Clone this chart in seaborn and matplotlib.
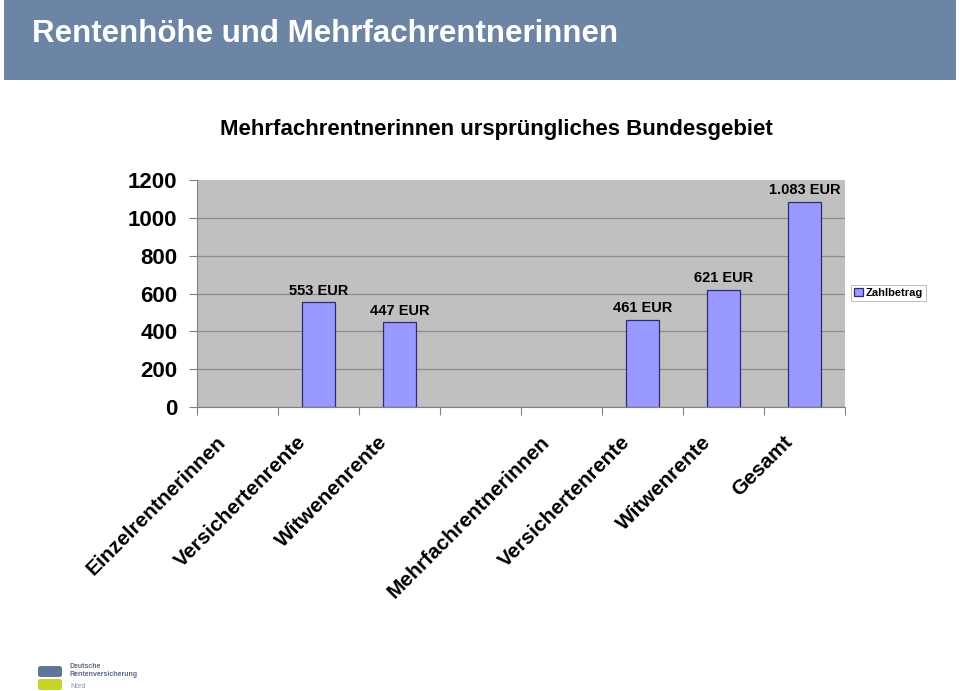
import matplotlib
matplotlib.use("Agg")
import matplotlib.pyplot as plt
from matplotlib.patches import FancyBboxPatch, Rectangle
import matplotlib.transforms as mtransforms
import seaborn as sns
import pandas as pd
import numpy as np

# ---- data ----
slot_keys = ["s0", "s1", "s2", "s3", "s4", "s5", "s6", "s7"]
tick_labels = ["Einzelrentnerinnen", "Versichertenrente", "Witwenenrente", "",
               "Mehrfachrentnerinnen", "Versichertenrente", "Witwenrente", "Gesamt"]
values = [np.nan, 553, 447, np.nan, np.nan, 461, 621, 1083]
value_labels = ["", "553 EUR", "447 EUR", "", "", "461 EUR", "621 EUR", "1.083 EUR"]
series_name = "Zahlbetrag"
y_ticks = [0, 200, 400, 600, 800, 1000, 1200]

df = pd.DataFrame({"slot": slot_keys, "value": values, "series": series_name})

sns.set_theme(style="white")
plt.rcParams["font.family"] = ["Liberation Sans", "DejaVu Sans"]
plt.rcParams["text.color"] = "black"
plt.rcParams["xtick.color"] = "black"
plt.rcParams["ytick.color"] = "black"
plt.rcParams["xtick.labelcolor"] = "black"
plt.rcParams["ytick.labelcolor"] = "black"

fig = plt.figure(figsize=(9.6, 6.91), dpi=100)
fig.patch.set_facecolor("white")

# header band
fig.patches.append(Rectangle((4 / 960, 1 - 80 / 691), 952 / 960, 80 / 691,
                             transform=fig.transFigure, facecolor="#6C85A4",
                             edgecolor="none", zorder=0))
fig.text(32 / 960, 1 - 34 / 691, "Rentenhöhe und Mehrfachrentnerinnen",
         color="white", fontsize=22.5, fontweight="bold", va="center", ha="left")
fig.text(496 / 960, 1 - 129 / 691, "Mehrfachrentnerinnen ursprüngliches Bundesgebiet",
         color="black", fontsize=16, fontweight="bold", va="center", ha="center")

ax = fig.add_axes([197 / 960, 1 - 407 / 691, 648 / 960, 227 / 691])
ax.set_facecolor("#C0C0C0")

sns.barplot(data=df, x="slot", y="value", hue="series", order=slot_keys,
            palette=["#9999FF"], saturation=1, width=0.41, edgecolor="#2B2B7A",
            linewidth=0.9, ax=ax, legend=True)

ax.set_xlim(-0.5, len(slot_keys) - 0.5)
ax.set_ylim(0, 1200)
ax.set_yticks(y_ticks)
ax.set_yticklabels([str(t) for t in y_ticks], fontsize=16, fontweight="bold")
ax.yaxis.grid(True, color="#8C8C8C", linewidth=0.9)
ax.get_ygridlines()[-1].set_visible(False)
ax.set_axisbelow(True)
ax.tick_params(axis="y", length=6, width=0.8, color="#808080", pad=8, left=True)

ax.set_xticks(range(len(slot_keys)))
ax.set_xticklabels(tick_labels, rotation=45, ha="right", va="center",
                   rotation_mode="anchor", fontsize=15, fontweight="bold")
ax.tick_params(axis="x", which="major", length=0, pad=23)
shift = mtransforms.ScaledTranslation(-15 / 100, 0, fig.dpi_scale_trans)
for lab in ax.get_xticklabels():
    lab.set_transform(lab.get_transform() + shift)
ax.set_xticks(np.arange(-0.5, len(slot_keys), 1.0), minor=True)
ax.tick_params(axis="x", which="minor", length=6, width=0.8, color="#808080", bottom=True)
ax.set_xlabel("")
ax.set_ylabel("")

for s in ["top", "right"]:
    ax.spines[s].set_visible(False)
for s in ["left", "bottom"]:
    ax.spines[s].set_color("#808080")
    ax.spines[s].set_linewidth(0.8)

# value labels
for i, (v, lab) in enumerate(zip(values, value_labels)):
    if lab:
        ax.annotate(lab, (i, v), xytext=(0, 3.5), textcoords="offset points",
                    ha="center", va="bottom", fontsize=10.5, fontweight="bold",
                    color="black")

# legend
leg = ax.legend(loc="center left", bbox_to_anchor=(654 / 648, (407 - 293) / 227),
                frameon=True, fancybox=False,
                prop={"weight": "bold", "size": 8},
                handlelength=0.8, handleheight=0.8, handletextpad=0.3,
                borderpad=0.25, borderaxespad=0)
leg.get_frame().set_edgecolor("#A0A0A0")
leg.get_frame().set_linewidth(0.6)
for t in leg.get_texts():
    t.set_color("black")

# logo
fig.patches.append(FancyBboxPatch((38 / 960, 1 - 677 / 691), 24 / 960, 11 / 691,
                                  boxstyle="round,pad=0,rounding_size=0.003",
                                  transform=fig.transFigure, facecolor="#5E7799",
                                  edgecolor="none"))
fig.patches.append(FancyBboxPatch((38 / 960, 1 - 690 / 691), 24 / 960, 11 / 691,
                                  boxstyle="round,pad=0,rounding_size=0.003",
                                  transform=fig.transFigure, facecolor="#C8D32A",
                                  edgecolor="none"))
fig.text(70 / 960, 1 - 667 / 691, "Deutsche", fontsize=5, color="#5A6A80",
         fontweight="bold", va="center")
fig.text(70 / 960, 1 - 675 / 691, "Rentenversicherung", fontsize=5, color="#5A6A80",
         fontweight="bold", va="center")
fig.text(70 / 960, 1 - 686 / 691, "Nord", fontsize=5, color="#8090A8", va="center")

fig.savefig("out.png", dpi=100, facecolor="white")
